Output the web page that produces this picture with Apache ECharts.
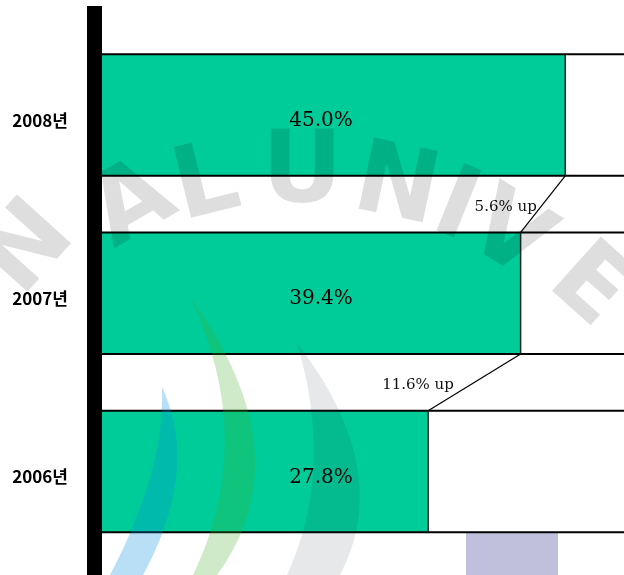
<!DOCTYPE html>
<html>
<head>
<meta charset="utf-8">
<script src="https://cdn.jsdelivr.net/npm/echarts@6/dist/echarts.min.js"></script>
<style>
html,body{margin:0;padding:0;background:#fff;}
#chart{width:624px;height:575px;}
</style>
</head>
<body>
<div id="chart"></div>
<script>
// ---- data ----
const CATEGORIES = ['2006년', '2007년', '2008년'];
const SHARES = [27.8, 39.4, 45.0];
const VALUE_LABELS = ['27.8%', '39.4%', '45.0%'];
const INCREASE_LABELS = ['11.6% up', '5.6% up']; // 2006→2007, 2007→2008

// ---- style / scale constants ----
const X_MIN = -13.12, X_MAX = 52.37;
const LABEL_POS = 14.35;      // value-axis position where in-bar labels sit
const BAR_RATIO = 0.682;
const TEAL = '#00cc99';

const chart = echarts.init(document.getElementById('chart'), null, {renderer: 'canvas'});

function rowItem(params, api) {
  const v = api.value(0), idx = api.value(1);
  const c = api.coord([v, idx]);
  const s = api.coord([X_MIN, idx]);
  const e = api.coord([X_MAX, idx]);
  const h = api.size([0, 1])[1] * BAR_RATIO;
  const top = c[1] - h / 2, bot = c[1] + h / 2;
  const lp = api.coord([LABEL_POS, idx]);
  return {
    type: 'group',
    children: [
      {type: 'rect', shape: {x: s[0], y: top, width: c[0] - s[0], height: h}, style: {fill: TEAL}},
      {type: 'line', shape: {x1: s[0], y1: top, x2: e[0] + 5, y2: top}, style: {stroke: '#000', lineWidth: 2}},
      {type: 'line', shape: {x1: s[0], y1: bot, x2: e[0] + 5, y2: bot}, style: {stroke: '#000', lineWidth: 2}},
      {type: 'line', shape: {x1: c[0], y1: top, x2: c[0], y2: bot}, style: {stroke: '#222', lineWidth: 1.5}},
      {type: 'text', x: lp[0], y: lp[1] + 6, style: {
        text: VALUE_LABELS[idx], font: '20px "DejaVu Serif"', fill: '#000',
        align: 'center', verticalAlign: 'middle'}}
    ]
  };
}

function stepItem(params, api) {
  const lower = api.coord([api.value(0), api.value(1)]);
  const upper = api.coord([api.value(2), api.value(3)]);
  const h = api.size([0, 1])[1] * BAR_RATIO;
  const x1 = upper[0], y1 = upper[1] + h / 2;
  const x2 = lower[0], y2 = lower[1] - h / 2;
  const ly = (y1 + y2) / 2 + 3;
  return {
    type: 'group',
    children: [
      {type: 'line', shape: {x1: x1, y1: y1, x2: x2, y2: y2}, style: {stroke: '#000', lineWidth: 1.2}},
      {type: 'text', x: x2 - 46, y: ly, style: {
        text: INCREASE_LABELS[params.dataIndex], font: '15px "DejaVu Serif"', fill: '#111',
        align: 'left', verticalAlign: 'middle'}}
    ]
  };
}

// faint watermark (university seal) laid translucently over the chart
function quad(p0, c, p1, n) {
  const pts = [];
  for (let i = 0; i <= n; i++) {
    const t = i / n, u = 1 - t;
    pts.push([u * u * p0[0] + 2 * u * t * c[0] + t * t * p1[0], u * u * p0[1] + 2 * u * t * c[1] + t * t * p1[1]]);
  }
  return pts;
}
function crescent(top, cOut, botOut, botIn, cIn) {
  return quad(top, cOut, botOut, 20).concat(quad(botIn, cIn, top, 20));
}
const wmLetters = [
  ['N', 30, 250, 48], ['A', 134, 207, 30], ['L', 207, 187, 14], ['U', 302, 176, 0],
  ['N', 396, 190, -12], ['I', 455, 210, -22], ['V', 507, 238, -32], ['E', 588, 288, -42]
];
const wmShapes = [
  [crescent([162, 387], [200, 470], [143, 575], [110, 575], [165, 470]), 'rgba(0,140,220,0.28)'],
  [crescent([190, 297], [305, 455], [217, 575], [193, 575], [258, 440]), 'rgba(60,170,40,0.25)'],
  [crescent([297, 343], [395, 470], [340, 575], [287, 575], [335, 470]), 'rgba(40,50,60,0.11)']
];
const watermark = wmLetters.map(function (l) {
  return {
    type: 'text', x: l[1], y: l[2], rotation: l[3] * Math.PI / 180, z: 100, silent: true,
    style: {text: l[0], font: 'bold 100px "DejaVu Sans"', fill: 'rgba(0,0,0,0.13)', align: 'center',
      verticalAlign: 'middle'}
  };
}).concat(wmShapes.map(function (s) {
  return {type: 'polygon', z: 100, silent: true, shape: {points: s[0]}, style: {fill: s[1]}};
})).concat([
  {type: 'rect', z: 100, silent: true, shape: {x: 466, y: 533, width: 92, height: 45},
    style: {fill: 'rgba(60,60,150,0.32)'}}
]);

chart.setOption({
  animation: false,
  backgroundColor: '#fff',
  grid: {left: 102, right: 0, top: 25.9, bottom: 14.4, containLabel: false},
  xAxis: {
    type: 'value', min: X_MIN, max: X_MAX, show: false
  },
  yAxis: {
    type: 'category', data: CATEGORIES,
    axisLine: {show: false}, axisTick: {show: false}, splitLine: {show: false},
    axisLabel: {
      margin: 34,
      formatter: '{a|{value}}',
      rich: {
        a: {
          color: '#000', fontSize: 17, fontWeight: 'bold',
          fontFamily: '"Noto Sans CJK KR", "Noto Sans", sans-serif', padding: [11, 0, 0, 0]
        }
      }
    }
  },
  graphic: [
    {type: 'rect', z: 50, silent: true, shape: {x: 87, y: 6, width: 15, height: 569}, style: {fill: '#000'}}
  ].concat(watermark),
  series: [
    {
      type: 'custom', name: 'rows', renderItem: rowItem,
      data: SHARES.map(function (v, i) { return [v, i]; }),
      encode: {x: 0, y: 1}, z: 2
    },
    {
      type: 'custom', name: 'steps', renderItem: stepItem,
      dimensions: ['lowerVal', 'lowerIdx', 'upperVal', 'upperIdx'],
      data: INCREASE_LABELS.map(function (_, i) { return [SHARES[i], i, SHARES[i + 1], i + 1]; }),
      encode: {x: [0, 2], y: [1, 3]}, z: 3
    }
  ]
});
</script>
</body>
</html>
